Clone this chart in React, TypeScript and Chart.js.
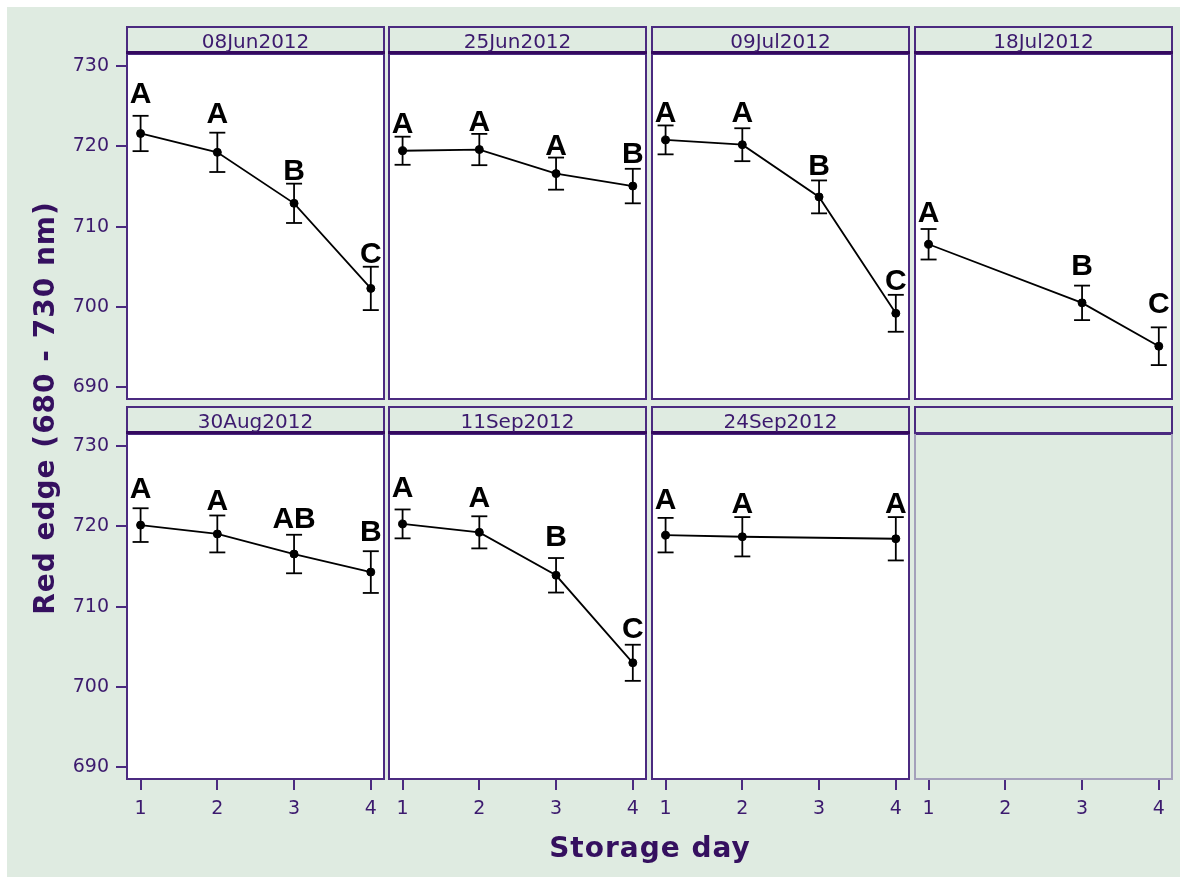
import React, { useEffect, useRef } from 'react';
import { Chart, registerables } from 'chart.js';

Chart.register(...registerables);

// ---------------- data ----------------
const X_TICKS = [1, 2, 3, 4];
const Y_TICKS = [690, 700, 710, 720, 730];

const JUN08_DAYS = [1, 2, 3, 4];
const JUN08_MEAN = [721.6, 719.25, 712.9, 702.3];
const JUN08_SE = [2.2, 2.45, 2.45, 2.7];
const JUN08_LETTERS = ['A', 'A', 'B', 'C'];
const JUN08_LABEL_Y = [725.4, 722.9, 715.8, 705.5];

const JUN25_DAYS = [1, 2, 3, 4];
const JUN25_MEAN = [719.45, 719.6, 716.6, 715.05];
const JUN25_SE = [1.75, 1.95, 2.0, 2.15];
const JUN25_LETTERS = ['A', 'A', 'A', 'B'];
const JUN25_LABEL_Y = [721.7, 721.9, 718.9, 717.9];

const JUL09_DAYS = [1, 2, 3, 4];
const JUL09_MEAN = [720.8, 720.2, 713.7, 699.2];
const JUL09_SE = [1.8, 2.05, 2.05, 2.3];
const JUL09_LETTERS = ['A', 'A', 'B', 'C'];
const JUL09_LABEL_Y = [723.0, 723.0, 716.4, 702.1];

const JUL18_DAYS = [1, 3, 4];
const JUL18_MEAN = [707.8, 700.5, 695.1];
const JUL18_SE = [1.9, 2.15, 2.35];
const JUL18_LETTERS = ['A', 'B', 'C'];
const JUL18_LABEL_Y = [710.6, 704.0, 699.2];

const AUG30_DAYS = [1, 2, 3, 4];
const AUG30_MEAN = [720.15, 719.05, 716.55, 714.3];
const AUG30_SE = [2.1, 2.3, 2.4, 2.6];
const AUG30_LETTERS = ['A', 'A', 'AB', 'B'];
const AUG30_LABEL_Y = [723.5, 722.0, 719.8, 718.2];

const SEP11_DAYS = [1, 2, 3, 4];
const SEP11_MEAN = [720.3, 719.25, 713.9, 703.0];
const SEP11_SE = [1.8, 2.0, 2.15, 2.25];
const SEP11_LETTERS = ['A', 'A', 'B', 'C'];
const SEP11_LABEL_Y = [723.6, 722.4, 717.5, 706.05];

const SEP24_DAYS = [1, 2, 4];
const SEP24_MEAN = [718.9, 718.7, 718.45];
const SEP24_SE = [2.15, 2.45, 2.7];
const SEP24_LETTERS = ['A', 'A', 'A'];
const SEP24_LABEL_Y = [722.1, 721.7, 721.7];

const X_TITLE = 'Storage day';
const Y_TITLE = 'Red edge (680 - 730 nm)';

// ---------------- style / layout ----------------
const GREEN = '#dfebe1';
const FRAME = '#4b2a80';
const DARK = '#34095f';
const TEXT = '#3c1a6e';
const TITLE = '#35105f';
const INK = '#000000';
const EMPTY_FRAME = '#a4a0bb';
const FONT = '"DejaVu Sans", Verdana, sans-serif';
const LETTER_FONT = 'bold 30px "Liberation Sans", Arial, sans-serif';

const X_MIN = 0.81;
const X_MAX = 4.185;
const Y_MIN = 688.4;
const Y_MAX = 731.5;

const COL_LEFT = [126, 388, 651, 914];
const PANEL_W = 259;
const ROW_PLOT_TOP = [54, 434];
const PLOT_H = 346;
const HEADER_H = 28;
const YAXIS_W = 70;
const XAXIS_H = 55;

type PanelSpec = {
  title: string;
  days: number[];
  mean: number[];
  se: number[];
  letters: string[];
  labelY: number[];
  row: number;
  col: number;
  empty?: boolean;
};

const PANELS: PanelSpec[] = [
  { title: '08Jun2012', days: JUN08_DAYS, mean: JUN08_MEAN, se: JUN08_SE, letters: JUN08_LETTERS, labelY: JUN08_LABEL_Y, row: 0, col: 0 },
  { title: '25Jun2012', days: JUN25_DAYS, mean: JUN25_MEAN, se: JUN25_SE, letters: JUN25_LETTERS, labelY: JUN25_LABEL_Y, row: 0, col: 1 },
  { title: '09Jul2012', days: JUL09_DAYS, mean: JUL09_MEAN, se: JUL09_SE, letters: JUL09_LETTERS, labelY: JUL09_LABEL_Y, row: 0, col: 2 },
  { title: '18Jul2012', days: JUL18_DAYS, mean: JUL18_MEAN, se: JUL18_SE, letters: JUL18_LETTERS, labelY: JUL18_LABEL_Y, row: 0, col: 3 },
  { title: '30Aug2012', days: AUG30_DAYS, mean: AUG30_MEAN, se: AUG30_SE, letters: AUG30_LETTERS, labelY: AUG30_LABEL_Y, row: 1, col: 0 },
  { title: '11Sep2012', days: SEP11_DAYS, mean: SEP11_MEAN, se: SEP11_SE, letters: SEP11_LETTERS, labelY: SEP11_LABEL_Y, row: 1, col: 1 },
  { title: '24Sep2012', days: SEP24_DAYS, mean: SEP24_MEAN, se: SEP24_SE, letters: SEP24_LETTERS, labelY: SEP24_LABEL_Y, row: 1, col: 2 },
  { title: '', days: [], mean: [], se: [], letters: [], labelY: [], row: 1, col: 3, empty: true },
];

function PanelChart({ spec }: { spec: PanelSpec }) {
  const ref = useRef<HTMLCanvasElement | null>(null);
  const showY = spec.col === 0;
  const showX = spec.row === 1;
  const left = COL_LEFT[spec.col] - (showY ? YAXIS_W : 0);
  const top = ROW_PLOT_TOP[spec.row] - HEADER_H;
  const width = PANEL_W + (showY ? YAXIS_W : 0);
  const height = HEADER_H + PLOT_H + (showX ? XAXIS_H : 0);

  useEffect(() => {
    if (!ref.current) return;
    const datasets: any[] = [];
    if (!spec.empty) {
      datasets.push({
        data: spec.days.map((d, i) => ({ x: d, y: spec.mean[i] })),
        borderColor: INK,
        backgroundColor: INK,
        borderWidth: 1.8,
        pointRadius: 4,
        pointBorderWidth: 1,
        pointBackgroundColor: INK,
        pointBorderColor: INK,
        pointStyle: 'circle',
        tension: 0,
        order: 0,
      });
      spec.days.forEach((d, i) => {
        datasets.push({
          data: [
            { x: d, y: spec.mean[i] - spec.se[i] },
            { x: d, y: spec.mean[i] + spec.se[i] },
          ],
          borderColor: INK,
          borderWidth: 1.8,
          pointStyle: 'line',
          pointRadius: 8,
          pointBorderWidth: 1.8,
          pointBorderColor: INK,
          pointBackgroundColor: INK,
          order: 1,
        });
      });
    }

    const deco = {
      id: 'panelDeco',
      beforeDraw(chart: any) {
        const { ctx, chartArea: a } = chart;
        const w = a.right - a.left;
        const h = a.bottom - a.top;
        const hTop = a.top - HEADER_H;
        ctx.save();
        ctx.fillStyle = spec.empty ? GREEN : '#ffffff';
        ctx.fillRect(a.left, a.top, w, h);
        ctx.fillStyle = GREEN;
        ctx.fillRect(a.left, hTop, w, HEADER_H);
        ctx.strokeStyle = FRAME;
        ctx.lineWidth = 2;
        ctx.strokeRect(a.left + 1, hTop + 1, w - 2, HEADER_H - 1);
        ctx.fillStyle = spec.empty ? FRAME : DARK;
        const ruleH = spec.empty ? 2 : 3;
        ctx.fillRect(a.left, a.top - ruleH, w, ruleH);
        if (spec.title) {
          ctx.fillStyle = TEXT;
          ctx.font = `20px ${FONT}`;
          ctx.textAlign = 'center';
          ctx.textBaseline = 'alphabetic';
          ctx.fillText(spec.title, a.left + w / 2, hTop + 22);
        }
        ctx.restore();
      },
      afterDraw(chart: any) {
        const { ctx, chartArea: a } = chart;
        ctx.save();
        ctx.strokeStyle = spec.empty ? EMPTY_FRAME : FRAME;
        ctx.lineWidth = 2;
        ctx.beginPath();
        ctx.moveTo(a.left + 1, a.top);
        ctx.lineTo(a.left + 1, a.bottom - 1);
        ctx.lineTo(a.right - 1, a.bottom - 1);
        ctx.lineTo(a.right - 1, a.top);
        ctx.stroke();
        const xs = chart.scales.x;
        const ys = chart.scales.y;
        ctx.fillStyle = INK;
        ctx.font = LETTER_FONT;
        ctx.textAlign = 'center';
        ctx.textBaseline = 'alphabetic';
        spec.letters.forEach((t, i) => {
          ctx.fillText(t, xs.getPixelForValue(spec.days[i]), ys.getPixelForValue(spec.labelY[i]));
        });
        ctx.restore();
      },
    };

    const chart = new Chart(ref.current, {
      type: 'line',
      data: { datasets },
      plugins: [deco],
      options: {
        animation: false,
        responsive: false,
        devicePixelRatio: 1,
        events: [],
        layout: { padding: { top: HEADER_H, left: 0, right: 0, bottom: 0 }, autoPadding: false },
        plugins: { legend: { display: false }, tooltip: { enabled: false }, title: { display: false } },
        scales: {
          x: {
            type: 'linear',
            min: X_MIN,
            max: X_MAX,
            display: showX,
            afterBuildTicks: (s: any) => {
              s.ticks = X_TICKS.map((v) => ({ value: v }));
            },
            afterFit: (s: any) => {
              s.height = showX ? XAXIS_H : 0;
              s.paddingLeft = 0;
              s.paddingRight = 0;
            },
            grid: { drawOnChartArea: false, drawTicks: true, tickLength: 10, color: FRAME, lineWidth: 2 },
            border: { display: false },
            ticks: { color: TEXT, font: { family: FONT, size: 19 }, padding: 8, maxRotation: 0, autoSkip: false },
          },
          y: {
            type: 'linear',
            min: Y_MIN,
            max: Y_MAX,
            display: showY,
            position: 'left',
            afterBuildTicks: (s: any) => {
              s.ticks = Y_TICKS.map((v) => ({ value: v }));
            },
            afterFit: (s: any) => {
              s.width = showY ? YAXIS_W : 0;
              s.paddingTop = 0;
              s.paddingBottom = 0;
            },
            grid: { drawOnChartArea: false, drawTicks: true, tickLength: 10, color: FRAME, lineWidth: 2 },
            border: { display: false },
            ticks: { color: TEXT, font: { family: FONT, size: 19 }, padding: 7, autoSkip: false },
          },
        },
      } as any,
    });
    return () => chart.destroy();
  }, []);

  return (
    <canvas
      ref={ref}
      width={width}
      height={height}
      style={{ position: 'absolute', left, top, width, height, display: 'block' }}
    />
  );
}

export default function App() {
  return (
    <div style={{ position: 'absolute', left: 0, top: 0, width: 1184, height: 877, background: '#ffffff', overflow: 'hidden' }}>
      <div style={{ position: 'absolute', left: 7, top: 7, width: 1173, height: 870, background: GREEN }} />
      {PANELS.map((p, i) => (
        <PanelChart key={i} spec={p} />
      ))}
      <div
        style={{
          position: 'absolute',
          left: 450,
          top: 834,
          width: 400,
          height: 28,
          lineHeight: '28px',
          textAlign: 'center',
          fontFamily: FONT,
          fontWeight: 'bold',
          fontSize: 28,
          letterSpacing: 1,
          color: TITLE,
          whiteSpace: 'nowrap',
        }}
      >
        {X_TITLE}
      </div>
      <div
        style={{
          position: 'absolute',
          left: 45 - 260,
          top: 407.5 - 15,
          width: 520,
          height: 30,
          lineHeight: '30px',
          textAlign: 'center',
          fontFamily: FONT,
          fontWeight: 'bold',
          fontSize: 28,
          letterSpacing: 1,
          color: TITLE,
          whiteSpace: 'nowrap',
          transform: 'rotate(-90deg)',
        }}
      >
        {Y_TITLE}
      </div>
    </div>
  );
}
